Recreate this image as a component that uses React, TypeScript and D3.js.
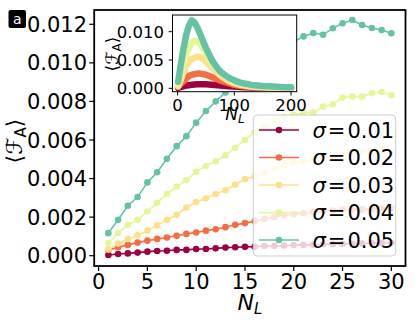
import React from "react";
import * as d3 from "d3";

const NL = d3.range(1, 31);
const sigmaLabels = ["0.01", "0.02", "0.03", "0.04", "0.05"];
const colors = ["#9e0142", "#f46d43", "#fee08b", "#e6f598", "#66c2a5"];

const s01 = [0.00004, 0.00009, 0.00012, 0.00016, 0.00021, 0.00024, 0.00026, 0.0003, 0.0003, 0.00035, 0.00035, 0.00038, 0.00042, 0.00044, 0.00046, 0.00047, 0.0005, 0.00051, 0.00053, 0.00055, 0.00056, 0.00057, 0.00059, 0.0006, 0.00061, 0.00062, 0.00063, 0.00065, 0.00066, 0.00067];
const s02 = [0.0003, 0.00044, 0.00056, 0.00068, 0.00078, 0.00087, 0.00094, 0.00103, 0.00113, 0.0012, 0.0013, 0.00137, 0.00148, 0.0016, 0.00169, 0.00178, 0.0019, 0.002, 0.0021, 0.00215, 0.0022, 0.00226, 0.0023, 0.00234, 0.00238, 0.0024, 0.0024, 0.00243, 0.00246, 0.00247];
const s03 = [0.00033, 0.00063, 0.00086, 0.00106, 0.0013, 0.00157, 0.00186, 0.00212, 0.0025, 0.00278, 0.00298, 0.0032, 0.0034, 0.00368, 0.00398, 0.0041, 0.0043, 0.00455, 0.0047, 0.0048, 0.0049, 0.005, 0.0051, 0.0051, 0.0052, 0.0053, 0.0054, 0.0054, 0.0055, 0.0054];
const s04 = [0.00065, 0.00118, 0.0016, 0.00186, 0.00229, 0.00274, 0.0032, 0.00358, 0.00392, 0.00435, 0.00465, 0.0049, 0.0052, 0.0056, 0.006, 0.0064, 0.0067, 0.007, 0.0072, 0.0073, 0.0074, 0.00742, 0.00773, 0.00785, 0.0082, 0.00825, 0.00825, 0.00842, 0.00849, 0.00832];
const s05 = [0.00117, 0.00186, 0.00259, 0.00304, 0.0038, 0.00433, 0.00503, 0.00568, 0.0062, 0.0069, 0.0075, 0.008, 0.00846, 0.009, 0.0095, 0.0099, 0.0103, 0.0106, 0.0109, 0.0111, 0.01137, 0.01155, 0.01146, 0.01179, 0.01205, 0.01222, 0.01196, 0.01181, 0.0117, 0.01153];
const mainSeries = [s01, s02, s03, s04, s05];

const insetN = [1, 5, 10, 15, 20, 25, 30, 35, 40, 45, 50, 55, 60, 65, 70, 75, 80, 90, 100, 110, 120, 130, 140, 150, 160, 170, 180, 190, 200];
const i01 = [0.00004, 0.00021, 0.00035, 0.00047, 0.00055, 0.00061, 0.00067, 0.0007, 0.00072, 0.00072, 0.0007, 0.00067, 0.00063, 0.00058, 0.00054, 0.00049, 0.00045, 0.00037, 0.0003, 0.00024, 0.00019, 0.00015, 0.00012, 0.0001, 0.00008, 0.00006, 0.00005, 0.00004, 0.00003];
const i02 = [0.0003, 0.00078, 0.0012, 0.0017, 0.0022, 0.0024, 0.0025, 0.0026, 0.0026, 0.0025, 0.0024, 0.0022, 0.002, 0.0018, 0.0016, 0.0014, 0.0012, 0.0009, 0.0006, 0.00045, 0.00033, 0.00024, 0.00018, 0.00013, 0.0001, 0.00008, 0.00006, 0.00005, 0.00004];
const i03 = [0.00033, 0.0013, 0.0028, 0.004, 0.0048, 0.0052, 0.0054, 0.0056, 0.0055, 0.0052, 0.0047, 0.0042, 0.0037, 0.0032, 0.0027, 0.0023, 0.0019, 0.0013, 0.0009, 0.0006, 0.00045, 0.00033, 0.00025, 0.0002, 0.00016, 0.00013, 0.00011, 0.0001, 0.00008];
const i04 = [0.00065, 0.0023, 0.0043, 0.006, 0.0072, 0.0081, 0.0084, 0.0083, 0.0078, 0.007, 0.0062, 0.0054, 0.0046, 0.0039, 0.0033, 0.0028, 0.0023, 0.0016, 0.0011, 0.0008, 0.0006, 0.00045, 0.00035, 0.0003, 0.00025, 0.0002, 0.00018, 0.00015, 0.00013];
const i05 = [0.00117, 0.0038, 0.0068, 0.0094, 0.0111, 0.012, 0.0116, 0.0107, 0.0095, 0.0083, 0.0071, 0.0061, 0.0051, 0.0043, 0.0036, 0.003, 0.0026, 0.0019, 0.0014, 0.001, 0.0008, 0.0006, 0.0005, 0.0004, 0.00035, 0.0003, 0.00025, 0.0002, 0.00018];
const insetSeries = [i01, i02, i03, i04, i05];

const xTicks = [0, 5, 10, 15, 20, 25, 30];
const yTicks = [0, 0.002, 0.004, 0.006, 0.008, 0.01, 0.012];
const insetXTicks = [0, 100, 200];
const insetYTicks = [0, 0.005, 0.01];

const FONT = "DejaVu Sans, sans-serif";

export default function App() {
  const x = d3.scaleLinear().domain([-0.45, 31.45]).range([94.2, 405.5]);
  const y = d3.scaleLinear().domain([-0.000534, 0.01274]).range([266, 10]);
  const xi = d3.scaleLinear().domain([-9, 210]).range([172.5, 296.7]);
  const yi = d3.scaleLinear().domain([-0.0006, 0.01295]).range([91.7, 15]);

  const line = d3.line<number>().x((_, i) => x(NL[i])).y((d) => y(d));
  const lineI = d3.line<number>().x((_, i) => xi(insetN[i])).y((d) => yi(d));

  const legendRows = [130, 157.5, 185, 212.5, 240];

  return (
    <svg width={415} height={323} style={{ position: "absolute", left: 0, top: 0 }} fontFamily={FONT}>
      <rect width={415} height={323} fill="white" />
      {/* main series */}
      <g>
        {mainSeries.map((s, k) => (
          <g key={k}>
            <path d={line(s) || ""} fill="none" stroke={colors[k]} strokeWidth={1.6} />
            {s.map((v, i) => (
              <circle key={i} cx={x(NL[i])} cy={y(v)} r={3.3} fill={colors[k]} />
            ))}
          </g>
        ))}
      </g>
      {/* main axes */}
      <rect x={94.2} y={10} width={311.3} height={256} fill="none" stroke="black" strokeWidth={1.8} />
      {xTicks.map((t) => (
        <g key={t}>
          <line x1={x(t)} x2={x(t)} y1={266} y2={271} stroke="black" strokeWidth={1.2} />
          <text x={x(t)} y={289} fontSize={21} textAnchor="middle">{t}</text>
        </g>
      ))}
      {yTicks.map((t) => (
        <g key={t}>
          <line x1={89.2} x2={94.2} y1={y(t)} y2={y(t)} stroke="black" strokeWidth={1.2} />
          <text x={87} y={y(t) + 7.6} fontSize={21} textAnchor="end">{t.toFixed(3)}</text>
        </g>
      ))}
      <text x={250} y={310} fontSize={22} textAnchor="middle">
        <tspan fontStyle="italic">N</tspan>
        <tspan fontStyle="italic" fontSize={15} dy={4}>L</tspan>
      </text>
      <text transform="translate(22,141) rotate(-90)" fontSize={22} textAnchor="middle">
        <tspan>⟨</tspan>
        <tspan fontStyle="italic">ℱ</tspan>
        <tspan fontSize={15} dy={4}>A</tspan>
        <tspan dy={-4}>⟩</tspan>
      </text>
      {/* panel label */}
      <rect x={8.5} y={10} width={17.5} height={18} rx={2} fill="black" />
      <text x={17.2} y={23.5} fontSize={14} fill="white" textAnchor="middle">a</text>

      {/* legend */}
      <rect x={253.3} y={115} width={142.4} height={141} rx={4} fill="white" fillOpacity={0.8} stroke="#cccccc" strokeWidth={1} />
      {legendRows.map((ry, k) => (
        <g key={k}>
          <line x1={259} x2={299} y1={ry} y2={ry} stroke={colors[k]} strokeWidth={1.6} />
          <circle cx={279} cy={ry} r={3.3} fill={colors[k]} />
          <text x={312.5} y={ry + 7.5} fontSize={21}>
            <tspan fontStyle="italic">σ</tspan>
            <tspan dx={2}>=</tspan>
            <tspan dx={2}>{sigmaLabels[k]}</tspan>
          </text>
        </g>
      ))}

      {/* inset */}
      <rect x={172.5} y={15} width={124.2} height={76.7} fill="white" />
      <defs>
        <clipPath id="insetClip">
          <rect x={172.5} y={15} width={124.2} height={76.7} />
        </clipPath>
      </defs>
      <g clipPath="url(#insetClip)">
        {insetSeries.map((s, k) => (
          <path key={k} d={lineI(s) || ""} fill="none" stroke={colors[k]} strokeWidth={6.5} strokeLinejoin="round" strokeLinecap="round" />
        ))}
      </g>
      <rect x={172.5} y={15} width={124.2} height={76.7} fill="none" stroke="black" strokeWidth={1} />
      {insetXTicks.map((t) => (
        <g key={t}>
          <line x1={xi(t)} x2={xi(t)} y1={91.7} y2={95.5} stroke="black" strokeWidth={1} />
          <text x={xi(t)} y={111} fontSize={16.5} textAnchor="middle">{t}</text>
        </g>
      ))}
      {insetYTicks.map((t) => (
        <g key={t}>
          <line x1={168.7} x2={172.5} y1={yi(t)} y2={yi(t)} stroke="black" strokeWidth={1} />
          <text x={164} y={yi(t) + 6} fontSize={16.5} textAnchor="end">{t.toFixed(3)}</text>
        </g>
      ))}
      <text x={235} y={120} fontSize={17} textAnchor="middle">
        <tspan fontStyle="italic">N</tspan>
        <tspan fontStyle="italic" fontSize={12} dy={3}>L</tspan>
      </text>
      <text transform="translate(118,54) rotate(-90)" fontSize={17} textAnchor="middle">
        <tspan>⟨</tspan>
        <tspan fontStyle="italic">ℱ</tspan>
        <tspan fontSize={12} dy={3}>A</tspan>
        <tspan dy={-3}>⟩</tspan>
      </text>
    </svg>
  );
}
